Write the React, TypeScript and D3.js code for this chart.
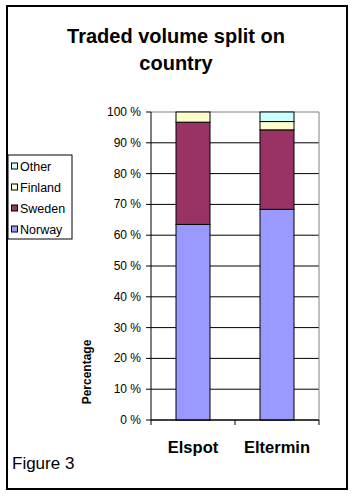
import * as d3 from "d3";

const W = 354;
const H = 497;
const PLOT = { left: 151, right: 319, top: 112, bottom: 420 };

const categories = ["Elspot", "Eltermin"];
const seriesNames = ["Norway", "Sweden", "Finland", "Other"];
const norway = [63.5, 68.4];
const sweden = [33.2, 25.8];
const finland = [3.3, 2.7];
const other = [0, 3.1];
const yTicks = [0, 10, 20, 30, 40, 50, 60, 70, 80, 90, 100];

const colors: Record<string, string> = {
  Norway: "#9999FF",
  Sweden: "#993366",
  Finland: "#FFFFCC",
  Other: "#CCFFFF",
};

const FONT = "'Liberation Sans', Arial, sans-serif";

export default function App() {
  const rows = categories.map((c, i) => ({
    cat: c,
    Norway: norway[i],
    Sweden: sweden[i],
    Finland: finland[i],
    Other: other[i],
  }));
  const stacked = d3.stack<any>().keys(seriesNames)(rows);

  const x = d3
    .scaleBand()
    .domain(categories)
    .range([PLOT.left, PLOT.right]);
  const y = d3.scaleLinear().domain([0, 100]).range([PLOT.bottom, PLOT.top]);
  const barW = 34;

  const legendOrder = [...seriesNames].reverse();

  return (
    <svg
      width={W}
      height={H}
      style={{ position: "absolute", left: 0, top: 0, background: "#fff" }}
      fontFamily={FONT}
    >
      <rect x={0} y={0} width={W} height={H} fill="#fff" />
      <rect x={7} y={6} width={340} height={483} fill="none" stroke="#000" strokeWidth={2} />

      <text x={176} y={43} textAnchor="middle" fontSize={20} fontWeight="bold">
        Traded volume split on
      </text>
      <text x={176} y={70} textAnchor="middle" fontSize={20} fontWeight="bold">
        country
      </text>

      {/* gridlines */}
      {yTicks.map((t) => (
        <line
          key={"g" + t}
          x1={PLOT.left}
          x2={PLOT.right}
          y1={y(t)}
          y2={y(t)}
          stroke={t === 100 ? "#808080" : "#000"}
          strokeWidth={1}
        />
      ))}
      <line x1={PLOT.right} x2={PLOT.right} y1={PLOT.top} y2={PLOT.bottom} stroke="#808080" />

      {/* bars */}
      {stacked.map((s) =>
        s.map((d, i) =>
          d[1] - d[0] > 0 ? (
            <rect
              key={s.key + i}
              x={x(categories[i])! + x.bandwidth() / 2 - barW / 2}
              y={y(d[1])}
              width={barW}
              height={y(d[0]) - y(d[1])}
              fill={colors[s.key]}
              stroke="#000"
              strokeWidth={1}
            />
          ) : null,
        ),
      )}

      {/* y axis */}
      <line x1={PLOT.left} x2={PLOT.left} y1={PLOT.top} y2={PLOT.bottom} stroke="#000" />
      {yTicks.map((t) => (
        <g key={"t" + t}>
          <line x1={PLOT.left - 5} x2={PLOT.left} y1={y(t)} y2={y(t)} stroke="#000" />
          <text x={141} y={y(t) + 4} textAnchor="end" fontSize={12}>
            {t} %
          </text>
        </g>
      ))}

      {/* x axis */}
      <line x1={PLOT.left} x2={PLOT.right} y1={PLOT.bottom} y2={PLOT.bottom} stroke="#000" />
      {[...categories.map((c) => x(c)!), PLOT.right].map((px, i) => (
        <line key={"xt" + i} x1={px} x2={px} y1={PLOT.bottom} y2={PLOT.bottom + 5} stroke="#000" />
      ))}
      {categories.map((c) => (
        <text
          key={"xl" + c}
          x={x(c)! + x.bandwidth() / 2}
          y={453}
          textAnchor="middle"
          fontSize={16.5}
          fontWeight="bold"
        >
          {c}
        </text>
      ))}

      <text
        transform="translate(91,372) rotate(-90)"
        textAnchor="middle"
        fontSize={12}
        fontWeight="bold"
      >
        Percentage
      </text>

      {/* legend */}
      <rect x={8} y={155} width={64} height={84} fill="#fff" stroke="#000" />
      {legendOrder.map((n, i) => (
        <g key={"lg" + n}>
          <rect
            x={11.5}
            y={163 + i * 21}
            width={6}
            height={6}
            fill={colors[n]}
            stroke="#000"
          />
          <text x={20} y={170.5 + i * 21} fontSize={12.5}>
            {n}
          </text>
        </g>
      ))}

      <text x={12} y={469} fontSize={17}>
        Figure 3
      </text>
    </svg>
  );
}
